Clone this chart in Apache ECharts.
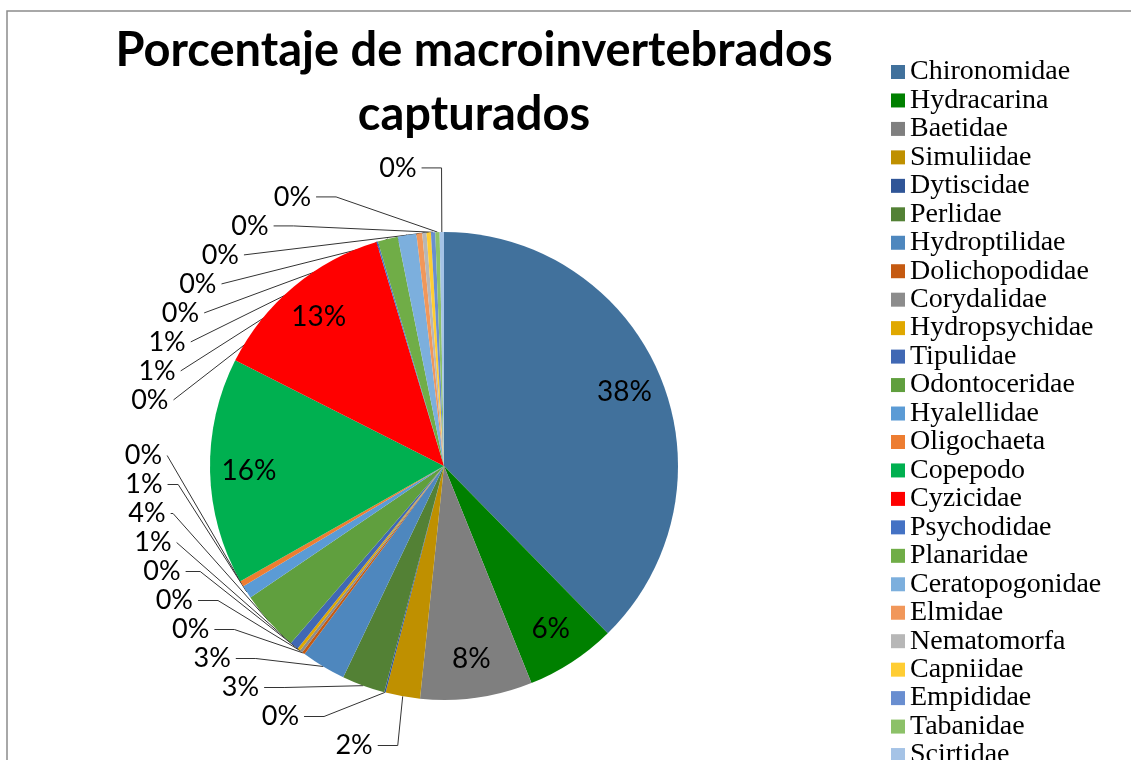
<!DOCTYPE html>
<html lang="es">
<head>
  <meta charset="UTF-8">
  <title>Macroinvertebrados</title>
  <style>
    * { margin: 0; padding: 0; }
    body { background: #fff; }
    #chart { width: 1131px; height: 760px; }
  </style>
</head>
<body>
  <div id="chart"></div>
  <script src="https://cdn.jsdelivr.net/npm/echarts@6/dist/echarts.min.js"></script>
  <script>
    // familias (orden de la leyenda y del pastel)
    var familias = ['Chironomidae', 'Hydracarina', 'Baetidae', 'Simuliidae', 'Dytiscidae', 'Perlidae',
      'Hydroptilidae', 'Dolichopodidae', 'Corydalidae', 'Hydropsychidae', 'Tipulidae', 'Odontoceridae',
      'Hyalellidae', 'Oligochaeta', 'Copepodo', 'Cyzicidae', 'Psychodidae', 'Planaridae',
      'Ceratopogonidae', 'Elmidae', 'Nematomorfa', 'Capniidae', 'Empididae', 'Tabanidae', 'Scirtidae'];
    // porcentaje estimado de cada familia
    var porcentajes = [38.0, 6.3, 7.8, 2.4, 0.1, 3.0,
      3.1, 0.2, 0.2, 0.2, 0.6, 4.2,
      0.9, 0.4, 15.8, 13.0, 0.1, 1.4,
      1.3, 0.4, 0.3, 0.3, 0.3, 0.3, 0.3];
    var colores = ['#41719c', '#008000', '#7f7f7f', '#bf9000', '#2f5597', '#538135',
      '#4e87be', '#c55a11', '#8c8c8c', '#e0a800', '#4068b4', '#609f3e',
      '#5b9bd5', '#ed7d31', '#00b050', '#ff0000', '#4472c4', '#70ad47',
      '#7cafdd', '#f1975a', '#b7b7b7', '#ffcd33', '#698ed0', '#8cc168', '#a5c3e6'];

    var total = porcentajes.reduce(function (a, b) { return a + b; }, 0);
    function grande(v) { return v / total >= 0.05; }

    var datos = familias.map(function (n, i) {
      return {
        name: n,
        value: porcentajes[i],
        label: { show: !grande(porcentajes[i]) },
        labelLine: { show: !grande(porcentajes[i]) }
      };
    });
    // etiquetas internas (solo sectores grandes)
    var datosInt = familias.map(function (n, i) {
      return { name: n, value: porcentajes[i], label: { show: grande(porcentajes[i]) } };
    });

    var fmt = function (p) { return Math.round(p.percent) + '%'; };

    var myChart = echarts.init(document.getElementById('chart'));
    var option = {
      color: colores,
      animation: false,
      title: {
        text: 'Porcentaje de macroinvertebrados\ncapturados',
        left: 469,
        top: 14,
        textAlign: 'center',
        textStyle: {
          fontFamily: 'Lato',
          fontWeight: 'bold',
          fontSize: 47,
          lineHeight: 64,
          color: '#000'
        }
      },
      legend: {
        orient: 'vertical',
        left: 886,
        top: 53,
        height: 900,
        icon: 'rect',
        itemWidth: 14,
        itemHeight: 14,
        itemGap: 0.46,
        data: familias,
        textStyle: {
          fontFamily: 'Liberation Serif',
          fontSize: 28,
          lineHeight: 28,
          color: '#000'
        }
      },
      graphic: [{
        type: 'rect',
        shape: { x: 7, y: 11, width: 1300, height: 900 },
        style: { fill: 'none', stroke: '#8c8c8c', lineWidth: 1.5 },
        silent: true
      }],
      series: [
        {
          name: 'sectores',
          type: 'pie',
          center: [444, 466],
          radius: 234,
          startAngle: 90,
          avoidLabelOverlap: true,
          itemStyle: { borderWidth: 0 },
          label: {
            position: 'outside',
            formatter: fmt,
            fontFamily: 'Lato',
            fontSize: 27,
            color: '#000'
          },
          labelLine: {
            length: 28,
            length2: 20,
            lineStyle: { color: '#333', width: 1 }
          },
          emphasis: { disabled: true },
          data: datos
        },
        {
          name: 'etiquetas',
          type: 'pie',
          center: [444, 466],
          radius: [150, 234],
          startAngle: 90,
          silent: true,
          itemStyle: { color: 'transparent' },
          label: {
            position: 'inside',
            formatter: fmt,
            fontFamily: 'Lato',
            fontSize: 28,
            color: '#000'
          },
          labelLine: { show: false },
          emphasis: { disabled: true },
          data: datosInt
        }
      ]
    };
    myChart.setOption(option);
  </script>
</body>
</html>
